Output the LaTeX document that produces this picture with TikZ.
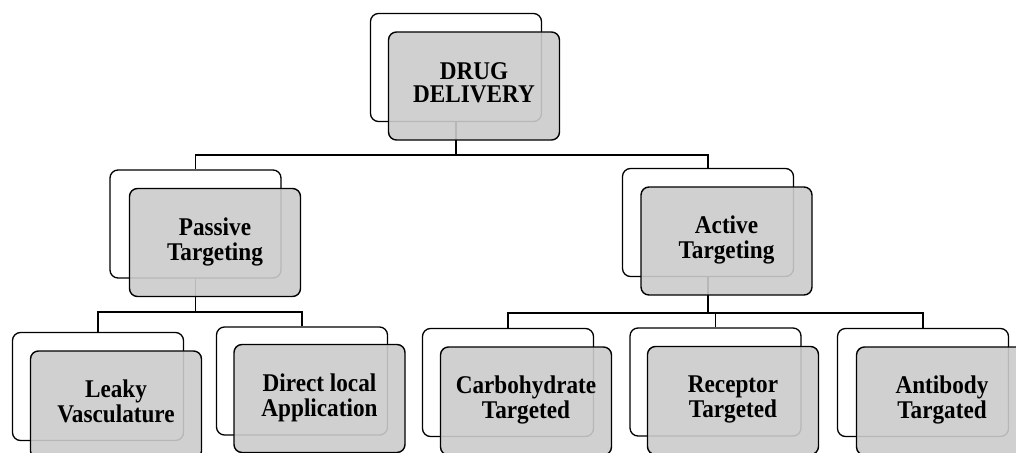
\documentclass[tikz,border=0pt]{standalone}
\usepackage{fontspec}
\usepackage{graphicx}
\setmainfont{Liberation Serif}
\definecolor{boxgray}{RGB}{203,203,203}
% two-line label, set a little narrow and tall
\newcommand{\twolines}[2]{\scalebox{0.91}[1.0]{\begin{tabular}{@{}c@{}}#1\\#2\end{tabular}}}
\tikzset{
  backbox/.style={draw=black, line width=1.3pt, rounded corners=8pt, fill=white,
    minimum width=171pt, minimum height=108pt, inner sep=0pt},
  frontbox/.style={draw=black, line width=1.4pt, rounded corners=8pt, fill=boxgray,
    fill opacity=0.9, text opacity=1, minimum width=171pt, minimum height=108pt,
    inner sep=0pt, font=\fontsize{25.5}{23.5}\selectfont\bfseries},
  link/.style={draw=black, line width=1.3pt}
}
\begin{document}
\begin{tikzpicture}[x=1pt, y=-1pt]
\useasboundingbox (0,0) rectangle (1016,452);
\clip (0,0) rectangle (1016,452);

% back outlines
\node[backbox] (wDrug)     at (456,67.5)  {};
\node[backbox] (wPassive)  at (195.5,224) {};
\node[backbox] (wActive)   at (708,222.5) {};
\node[backbox] (wLeaky)    at (98,386.5)  {};
\node[backbox] (wDirect)   at (302,381)   {};
\node[backbox] (wCarb)     at (508,382.5) {};
\node[backbox] (wReceptor) at (715.5,382) {};
\node[backbox] (wAntibody) at (923,382.5) {};

% bus levels
\coordinate (busA) at (0,155);
\coordinate (busB) at (0,312);
\coordinate (busC) at (0,313);

% connectors
\draw[link] (wDrug.south) -- (wDrug.south |- busA) -| (wPassive.north);
\draw[link] (wDrug.south |- busA) -| (wActive.north);
\draw[link] (wPassive.south) -- (wPassive.south |- busB) -| (wLeaky.north);
\draw[link] (wPassive.south |- busB) -| (wDirect.north);
\draw[link] (wActive.south) -- (wActive.south |- busC) -| (wCarb.north);
\draw[link] (wActive.south |- busC) -| (wReceptor.north);
\draw[link] (wActive.south |- busC) -| (wAntibody.north);

% front boxes with labels
\node[frontbox] (gDrug)     at (474,86)    {\twolines{DRUG}{DELIVERY}};
\node[frontbox] (gPassive)  at (215,242.5) {\twolines{Passive}{Targeting}};
\node[frontbox] (gActive)   at (726.5,241) {\twolines{Active}{Targeting}};
\node[frontbox] (gLeaky)    at (116,405)   {\twolines{Leaky}{Vasculature}};
\node[frontbox] (gDirect)   at (319.5,398.5) {\twolines{Direct local}{Application}};
\node[frontbox] (gCarb)     at (526,401)   {\twolines{Carbohydrate}{Targeted}};
\node[frontbox] (gReceptor) at (733,400.5) {\twolines{Receptor}{Targeted}};
\node[frontbox] (gAntibody) at (942,401)   {\twolines{Antibody}{Targated}};
\end{tikzpicture}
\end{document}
